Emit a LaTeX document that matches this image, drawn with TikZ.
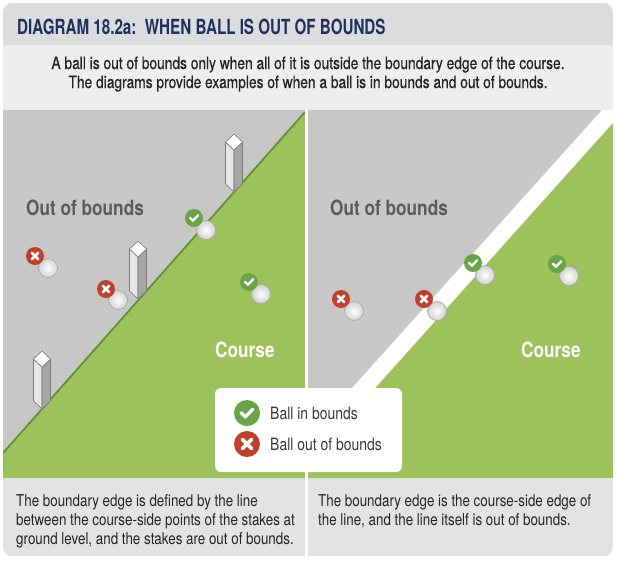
\documentclass[tikz,border=0pt]{standalone}
\usepackage{fontspec}
\setmainfont{TeX Gyre Heros}[FakeStretch=0.82]
\newfontfamily\titlefam{TeX Gyre Heros}[FakeStretch=0.73]
\newfontfamily\subfam{TeX Gyre Heros}[FakeStretch=0.81, FakeBold=0.5]
\definecolor{titlebg}{HTML}{DCDCDD}
\definecolor{subbg}{HTML}{EEEEEF}
\definecolor{bottombg}{HTML}{E3E3E4}
\definecolor{panelgray}{HTML}{C7C7C7}
\definecolor{fieldgreen}{HTML}{9DC25B}
\definecolor{edgegreen}{HTML}{5E9234}
\definecolor{navy}{HTML}{1F2F5E}
\definecolor{textdark}{HTML}{232323}
\definecolor{oobgray}{HTML}{5A5A5A}
\definecolor{checkgreen}{HTML}{6BA446}
\definecolor{xred}{HTML}{C0402B}
\definecolor{stakeL}{HTML}{E6E6E6}
\definecolor{stakeR}{HTML}{A6A6A6}
\definecolor{stakeE}{HTML}{7C7C7C}
\definecolor{ballgray}{HTML}{D2D2D2}
\definecolor{ballrim}{HTML}{A9A9A9}
\tikzset{
  stakepic/.pic={
    \filldraw[fill=stakeL, draw=stakeE, line width=0.6] (-8.5,-50) -- (0,-42) -- (0,0) -- (-8.5,-8) -- cycle;
    \filldraw[fill=stakeR, draw=stakeE, line width=0.6] (0,-42) -- (8.5,-50) -- (8.5,-8) -- (0,0) -- cycle;
    \filldraw[fill=white, draw=stakeE, line width=0.6] (0,-42) -- (-8.5,-50) -- (0,-58) -- (8.5,-50) -- cycle;
  },
  ballpic/.pic={
    \shade[inner color=white, outer color=ballgray] (0,0) circle (9.5);
    \draw[ballrim, line width=0.7] (0,0) circle (9.5);
  },
  okmark/.pic={
    \fill[checkgreen] (0,0) circle (#1);
    \draw[white, line width=#1*0.26pt, line cap=round, line join=round]
      (-0.45*#1,-0.02*#1) -- (-0.12*#1,0.3*#1) -- (0.45*#1,-0.3*#1);
  },
  badmark/.pic={
    \fill[xred] (0,0) circle (#1);
    \draw[white, line width=#1*0.28pt, line cap=round]
      (-0.36*#1,-0.36*#1) -- (0.36*#1,0.36*#1)
      (-0.36*#1,0.36*#1) -- (0.36*#1,-0.36*#1);
  },
  titletext/.style={font=\titlefam\fontsize{20.8}{24}\selectfont\bfseries, text=navy, inner sep=0},
  subtext/.style={font=\subfam\fontsize{17}{20}\selectfont, text=textdark, inner sep=0},
  oobtext/.style={font=\fontsize{21}{24}\selectfont\bfseries, text=oobgray, inner sep=0},
  coursetext/.style={font=\fontsize{21}{24}\selectfont\bfseries, text=white, inner sep=0},
  legtext/.style={font=\fontsize{17}{20}\selectfont, text=textdark!90, inner sep=0},
  bottext/.style={font=\fontsize{16.3}{19}\selectfont, text=textdark, inner sep=0},
}
\begin{document}
\begin{tikzpicture}[x=1pt,y=-1pt]
\useasboundingbox (0,0) rectangle (617,560);
\fill[white] (0,0) rectangle (617,560);
\begin{scope}
  \clip[rounded corners=9] (3,3) rectangle (613,556);
  % bands
  \fill[titlebg] (3,3) rectangle (613,45);
  \fill[subbg] (3,45) rectangle (613,110);
  \fill[bottombg] (3,478) rectangle (613,556);
  % left panel
  \fill[panelgray] (3,110) rectangle (305,478);
  \coordinate (LA) at (3,453);
  \coordinate (LB) at (305,112);
  \fill[fieldgreen] (LA) -- (LB) -- (305,478) -- (3,478) -- cycle;
  \draw[edgegreen, line width=1.8] (LA) -- (LB);
  % right panel
  \fill[panelgray] (308,110) rectangle (613,478);
  \fill[white] (602,110) -- (613,110) -- (613,478) -- (308,478) -- (308,437) -- cycle;
  \fill[fieldgreen] (613,123) -- (613,478) -- (308,478) -- (308,463) -- cycle;
  % divider
  \fill[white] (305,110) rectangle (308,556);
\end{scope}
% stakes
\pic at (234,192) {stakepic};
\pic at (138,299) {stakepic};
\pic at (42,409) {stakepic};
% balls left
\pic at (48,268) {ballpic};
\pic at (118,300) {ballpic};
\pic at (206,230) {ballpic};
\pic at (261,294) {ballpic};
\pic at (35,256) {badmark=9};
\pic at (106,289) {badmark=9};
\pic at (194,218) {okmark=9};
\pic at (249,282) {okmark=9};
% balls right
\pic at (354,311) {ballpic};
\pic at (437,311) {ballpic};
\pic at (485,275) {ballpic};
\pic at (569,276) {ballpic};
\pic at (341,299) {badmark=9};
\pic at (424,299) {badmark=9};
\pic at (473,263) {okmark=9};
\pic at (557,264) {okmark=9};
% texts
\node[titletext, anchor=base west] (title) at (17,34.5) {DIAGRAM 18.2a:\ \ WHEN BALL IS OUT OF BOUNDS};
\node[subtext, anchor=base] (sub1) at (308,69) {A ball is out of bounds only when all of it is outside the boundary edge of the course.};
\node[subtext, anchor=base] (sub2) at (308,88) {The diagrams provide examples of when a ball is in bounds and out of bounds.};
\node[oobtext, anchor=base west] (oobL) at (26,215) {Out of bounds};
\node[oobtext, anchor=base west] (oobR) at (330,215) {Out of bounds};
\node[coursetext, anchor=base west] (courseL) at (215,357) {Course};
\node[coursetext, anchor=base west] (courseR) at (521,357) {Course};
% legend
\fill[white, rounded corners=6] (215,388) rectangle (402,472);
\pic at (247,413) {okmark=13};
\pic at (247,444) {badmark=13};
\node[legtext, anchor=base west] (legok) at (270,419) {Ball in bounds};
\node[legtext, anchor=base west] (legbad) at (270,450) {Ball out of bounds};
% bottom texts
\node[bottext, anchor=base west] (bl1) at (16,506) {The boundary edge is defined by the line};
\node[bottext, anchor=base west] (bl2) at (16,525) {between the course-side points of the stakes at};
\node[bottext, anchor=base west] (bl3) at (16,544) {ground level, and the stakes are out of bounds.};
\node[bottext, anchor=base west] (br1) at (318,506) {The boundary edge is the course-side edge of};
\node[bottext, anchor=base west] (br2) at (318,525) {the line, and the line itself is out of bounds.};
\end{tikzpicture}
\end{document}
